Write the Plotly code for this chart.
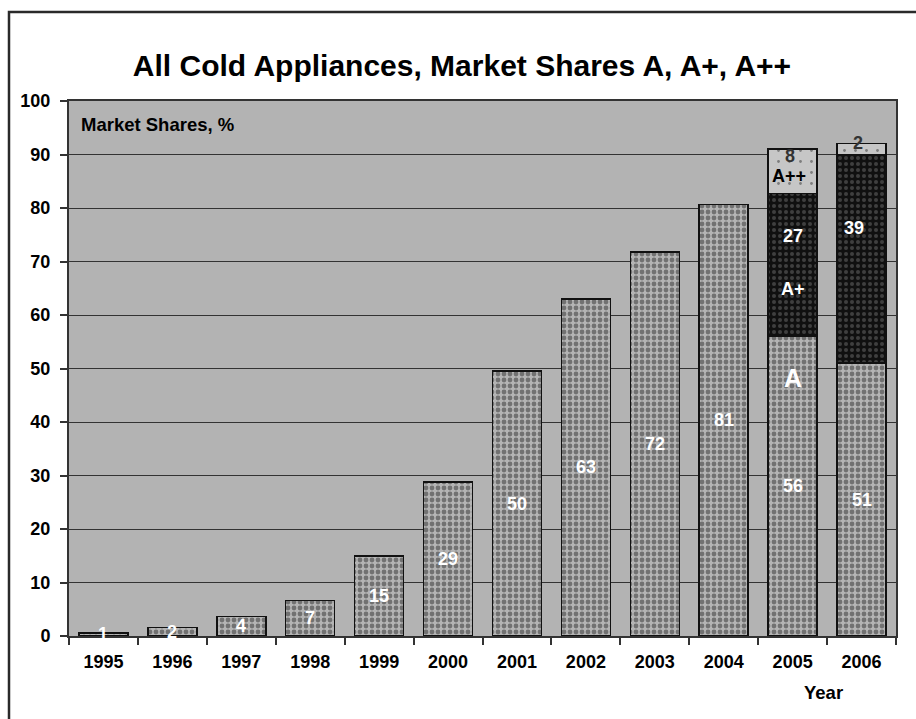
import plotly.graph_objects as go

years = ["1995", "1996", "1997", "1998", "1999", "2000", "2001", "2002", "2003", "2004", "2005", "2006"]
share_a = [0.6, 1.6, 3.6, 6.6, 15.0, 28.8, 49.5, 63.0, 71.8, 80.7, 56.0, 51.0]
share_a_plus = [0, 0, 0, 0, 0, 0, 0, 0, 0, 0, 26.7, 38.9]
share_a_pp = [0, 0, 0, 0, 0, 0, 0, 0, 0, 0, 8.3, 2.2]
label_a = ["1", "2", "4", "7", "15", "29", "50", "63", "72", "81", "56", "51"]
label_a_plus = ["", "", "", "", "", "", "", "", "", "", "27", "39"]
label_a_pp = ["", "", "", "", "", "", "", "", "", "", "8", "2"]
y_ticks = [0, 10, 20, 30, 40, 50, 60, 70, 80, 90, 100]

FONT = "Liberation Sans, Arial, sans-serif"
W, H = 916, 719
ML, MR, MT, MB = 69, 20, 101, 83
PW = W - ML - MR
PH = H - MT - MB

fig = go.Figure()
fig.add_bar(
    x=years, y=share_a, name="A",
    marker=dict(
        color="#b0b0b0",
        line=dict(color="#111111", width=1.5),
        pattern=dict(shape=".", fgcolor="#2e2e2e", bgcolor="#b4b4b4", size=6, solidity=0.5),
    ),
    hoverinfo="skip",
)
fig.add_bar(
    x=years, y=share_a_plus, name="A+",
    marker=dict(
        color="#222222",
        line=dict(color="#111111", width=1.5),
        pattern=dict(shape=".", fgcolor="#6e6e6e", bgcolor="#101010", size=6, solidity=0.35),
    ),
    hoverinfo="skip",
)
fig.add_bar(
    x=years, y=share_a_pp, name="A++",
    marker=dict(
        color="#c4c4c4",
        line=dict(color="#111111", width=1.5),
        pattern=dict(shape=".", fgcolor="#333333", bgcolor="#c6c6c6", size=11, solidity=0.05),
    ),
    hoverinfo="skip",
)

ann = []
lab_font = dict(family=FONT, size=18, color="white")
for i, yr in enumerate(years):
    ann.append(dict(x=i, y=share_a[i] / 2, text=label_a[i], showarrow=False,
                    xref="x", yref="y", font=lab_font))
    if label_a_plus[i]:
        frac = 0.70 if i == 10 else 0.65
        ann.append(dict(x=i, y=share_a[i] + share_a_plus[i] * frac, text=label_a_plus[i],
                        showarrow=False, xref="x", yref="y", font=lab_font,
                        xshift=0 if i == 10 else -8))
    if label_a_pp[i]:
        top = share_a[i] + share_a_plus[i]
        yy = top + share_a_pp[i] * 0.85 if i == 10 else top + share_a_pp[i] * 1.0
        ann.append(dict(x=i, y=yy, text=label_a_pp[i], showarrow=False,
                        xref="x", yref="y", xshift=-3 if i == 10 else -4,
                        font=dict(family=FONT, size=18, color="#333333")))

# segment names on 2005 bar
ann.append(dict(x=10, y=share_a[10] * 0.86, text="A", showarrow=False, xref="x", yref="y",
                font=dict(family=FONT, size=25, color="white")))
ann.append(dict(x=10, y=share_a[10] + share_a_plus[10] * 0.33, text="A+", showarrow=False,
                xref="x", yref="y", font=dict(family=FONT, size=18, color="white")))
ann.append(dict(x=10, y=share_a[10] + share_a_plus[10] + share_a_pp[10] * 0.4, text="A++",
                showarrow=False, xref="x", yref="y", xshift=-4,
                font=dict(family=FONT, size=18, color="#000000")))

ann.append(dict(x=(79 - ML) / PW, y=(MT + PH - 125) / PH, xref="paper", yref="paper",
                text="Market Shares, %", showarrow=False, xanchor="left", yanchor="middle",
                font=dict(family=FONT, size=18.5, color="#000000")))
ann.append(dict(x=(823 - ML) / PW, y=(MT + PH - 692) / PH, xref="paper", yref="paper",
                text="Year", showarrow=False, xanchor="center", yanchor="middle",
                font=dict(family=FONT, size=18.5, color="#000000")))

fig.update_layout(
    width=W, height=H,
    margin=dict(l=ML, r=MR, t=MT, b=MB),
    barmode="stack",
    bargap=0.29,
    showlegend=False,
    paper_bgcolor="white",
    plot_bgcolor="#b3b3b3",
    font=dict(family=FONT, size=18, color="#000000"),
    title=dict(text="<b>All Cold Appliances, Market Shares A, A+, A++</b>",
               x=462 / W, xanchor="center", xref="container",
               y=1 - 65 / H, yanchor="middle",
               font=dict(family=FONT, size=30, color="#000000")),
    annotations=[dict(a, text="<b>" + a["text"] + "</b>") for a in ann],
    shapes=[dict(type="rect", xref="paper", yref="paper",
                 x0=(9 - ML) / PW, x1=(925 - ML) / PW,
                 y0=(MT + PH - 730) / PH, y1=(MT + PH - 12) / PH,
                 line=dict(color="#2a2a2a", width=2.5), fillcolor="rgba(0,0,0,0)", layer="below")],
)
fig.update_xaxes(
    type="category", categoryorder="array", categoryarray=years,
    range=[-0.5, len(years) - 0.5],
    tickson="boundaries", ticks="outside", ticklen=7, tickwidth=1.5,
    tickcolor="#333333", showline=True, linecolor="#333333", linewidth=2, mirror=True,
    showgrid=False, tickfont=dict(family=FONT, size=18, color="#000000"),
    tickvals=years, ticktext=["<b>%s</b>" % y for y in years], tickangle=0,
    ticklabelstandoff=8,
)
fig.update_yaxes(
    range=[0, 100], tickvals=y_ticks, ticktext=["<b>%d</b>" % v for v in y_ticks],
    ticks="outside", ticklen=7, tickwidth=1.5, tickcolor="#333333",
    showline=True, linecolor="#333333", linewidth=2, mirror=True,
    showgrid=True, gridcolor="#333333", gridwidth=1, zeroline=False,
    tickfont=dict(family=FONT, size=18, color="#000000"), ticklabelstandoff=6,
)

fig.write_html("out.html")
